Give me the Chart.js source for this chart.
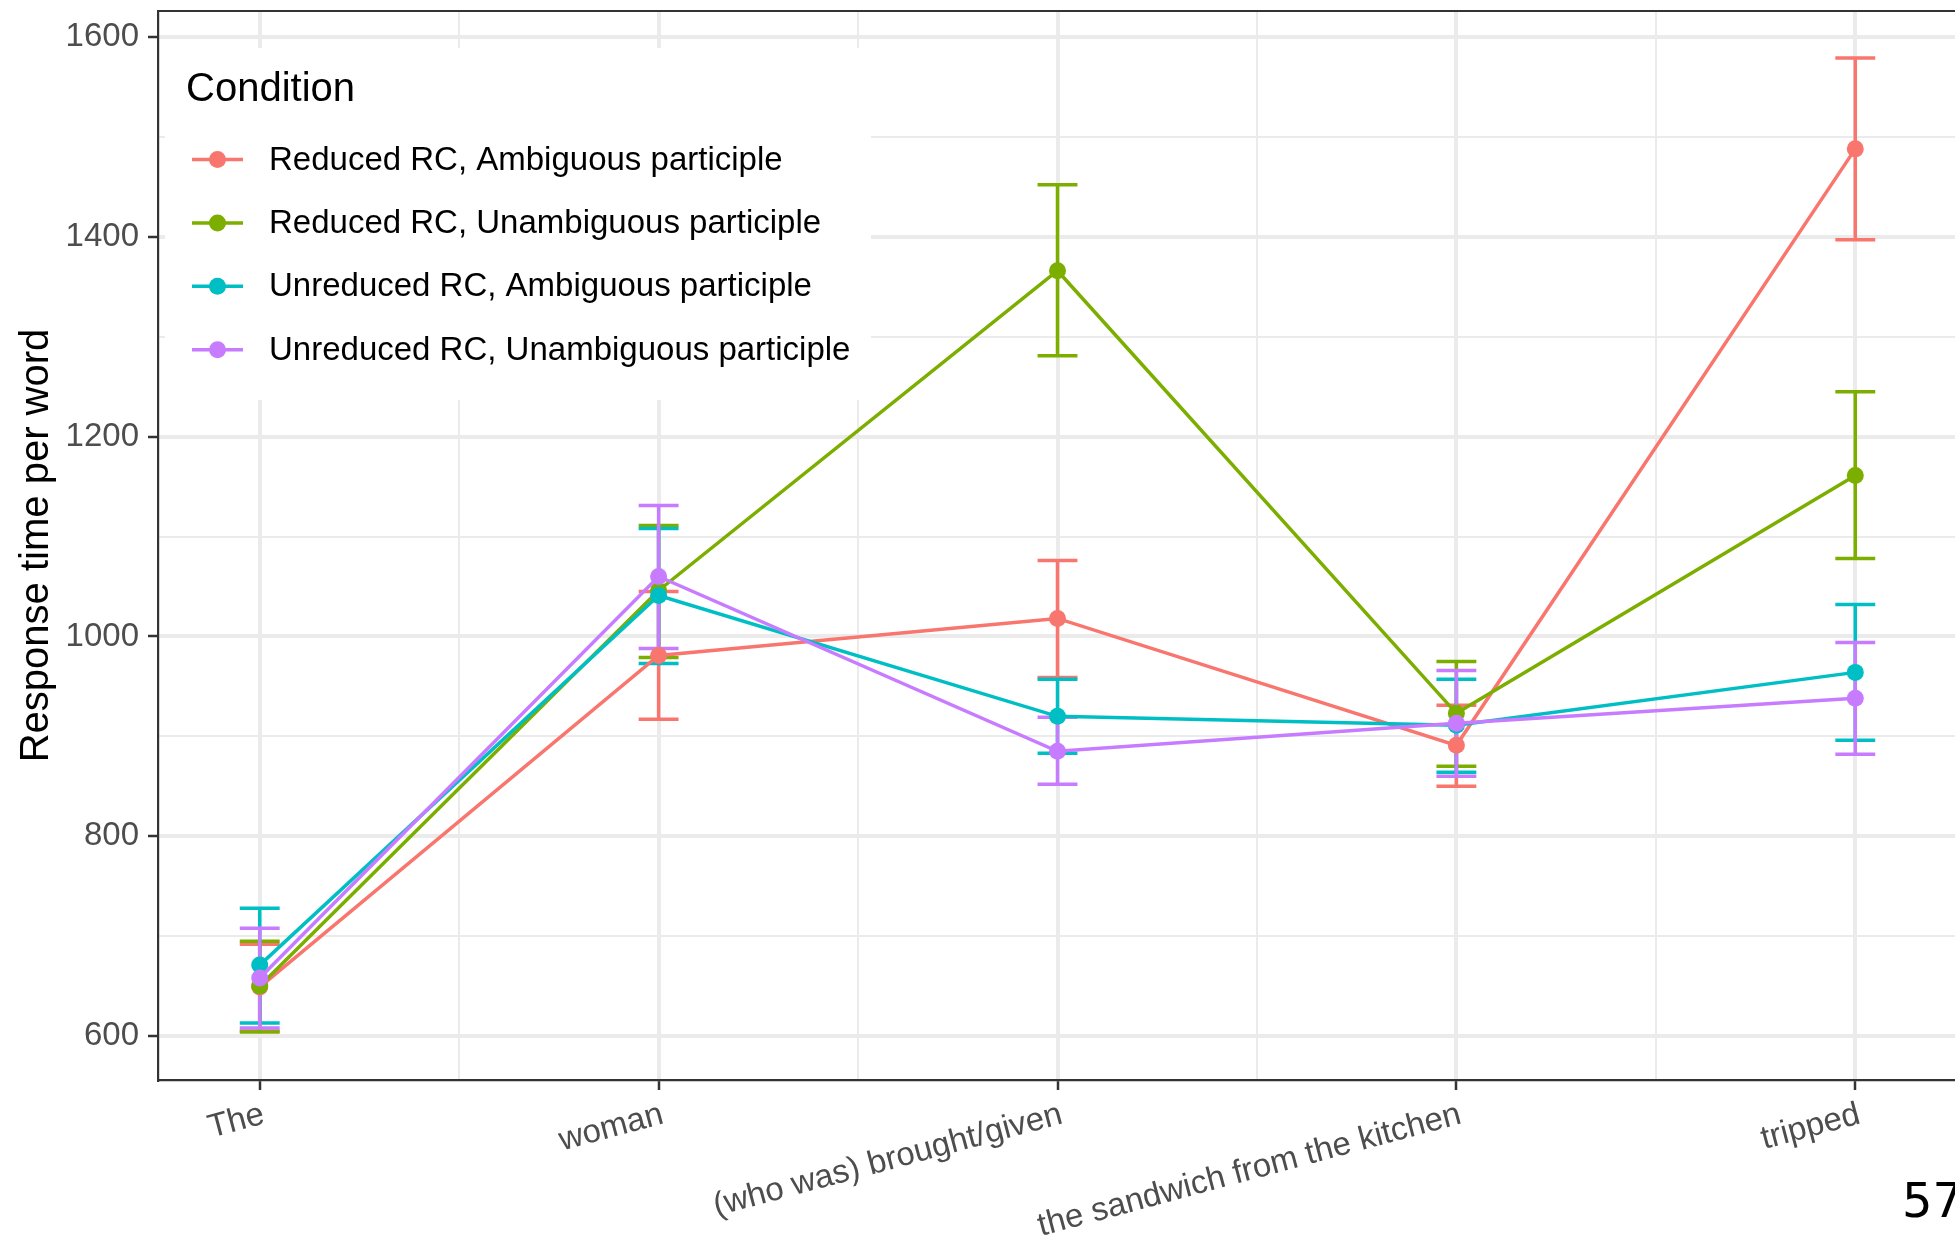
<!DOCTYPE html>
<html>
<head>
<meta charset="utf-8">
<title>Response time per word by region</title>
<script src="https://cdn.jsdelivr.net/npm/chart.js@4/dist/chart.umd.min.js"></script>
<style>
  html, body { margin: 0; padding: 0; background: #ffffff; overflow: hidden; }
  #wrap { position: relative; width: 1975px; height: 1239px; }
  #chart { position: absolute; left: 0; top: 0; }
  #page { position: absolute; left: 1902px; top: 1176px; font: 48px/48px "DejaVu Sans", sans-serif; color: #000; white-space: nowrap; }
</style>
</head>
<body>
<div id="wrap">
  <canvas id="chart" width="1975" height="1239" style="width:1975px;height:1239px"></canvas>
  <div id="page">57</div>
</div>
<script>
// Sentence regions (x axis)
const categories = ["The", "woman", "(who was) brought/given", "the sandwich from the kitchen", "tripped"];

// Condition names
const seriesNames = [
  "Reduced RC, Ambiguous participle",
  "Reduced RC, Unambiguous participle",
  "Unreduced RC, Ambiguous participle",
  "Unreduced RC, Unambiguous participle"
];

// Mean response time per word (ms)
const reducedAmbMean     = [649, 981, 1018, 891, 1488];
const reducedUnambMean   = [650, 1046, 1366, 923, 1161];
const unreducedAmbMean   = [671, 1041, 920, 911, 964];
const unreducedUnambMean = [658, 1060, 885, 913, 938];

// Error bar bounds
const reducedAmbLower     = [605, 917, 959, 850, 1397];
const reducedAmbUpper     = [692, 1045, 1076, 931, 1579];
const reducedUnambLower   = [604, 979, 1281, 870, 1078];
const reducedUnambUpper   = [695, 1111, 1452, 975, 1245];
const unreducedAmbLower   = [613, 973, 883, 864, 896];
const unreducedAmbUpper   = [728, 1108, 957, 957, 1032];
const unreducedUnambLower = [608, 988, 852, 860, 882];
const unreducedUnambUpper = [708, 1131, 919, 966, 994];

// Axis breaks
const yMajorTicks = [600, 800, 1000, 1200, 1400, 1600];
const yMinorTicks = [700, 900, 1100, 1300, 1500];
const xMinorTicks = [1.5, 2.5, 3.5, 4.5];

const colors = ["#F8766D", "#7CAE00", "#00BFC4", "#C77CFF"];
const FONT = '"Liberation Sans", Arial, Helvetica, sans-serif';

const means  = [reducedAmbMean, reducedUnambMean, unreducedAmbMean, unreducedUnambMean];
const lowers = [reducedAmbLower, reducedUnambLower, unreducedAmbLower, unreducedUnambLower];
const uppers = [reducedAmbUpper, reducedUnambUpper, unreducedAmbUpper, unreducedUnambUpper];

const xMajorTicks = categories.map((c, i) => i + 1);

const datasets = seriesNames.map((name, s) => ({
  label: name,
  data: means[s].map((v, i) => ({ x: i + 1, y: v })),
  borderColor: colors[s],
  backgroundColor: colors[s],
  pointBackgroundColor: colors[s],
  pointBorderWidth: 0,
  pointRadius: 8.5,
  pointHoverRadius: 8.5,
  borderWidth: 3.5,
  tension: 0,
  order: seriesNames.length - s
}));

// Vertical error bars with caps, drawn under the lines
const errorBars = {
  id: 'errorBars',
  beforeDatasetsDraw(chart) {
    const { ctx, chartArea, scales: { x, y } } = chart;
    const capHalf = Math.abs(x.getPixelForValue(1.05) - x.getPixelForValue(1));
    ctx.save();
    ctx.beginPath();
    ctx.rect(chartArea.left, chartArea.top, chartArea.right - chartArea.left, chartArea.bottom - chartArea.top);
    ctx.clip();
    ctx.lineWidth = 3.5;
    ctx.lineCap = 'butt';
    seriesNames.forEach((n, s) => {
      ctx.strokeStyle = colors[s];
      lowers[s].forEach((lo, i) => {
        const px = x.getPixelForValue(i + 1);
        const yl = y.getPixelForValue(lo);
        const yh = y.getPixelForValue(uppers[s][i]);
        ctx.beginPath();
        ctx.moveTo(px, yl); ctx.lineTo(px, yh);
        ctx.moveTo(px - capHalf, yl); ctx.lineTo(px + capHalf, yl);
        ctx.moveTo(px - capHalf, yh); ctx.lineTo(px + capHalf, yh);
        ctx.stroke();
      });
    });
    ctx.restore();
    // panel frame (top and right edges; left and bottom come from the axes)
    ctx.save();
    ctx.strokeStyle = '#333333';
    ctx.lineWidth = 2.2;
    ctx.beginPath();
    ctx.moveTo(chartArea.left, chartArea.top);
    ctx.lineTo(chartArea.right, chartArea.top);
    ctx.lineTo(chartArea.right, chartArea.bottom);
    ctx.stroke();
    ctx.restore();
  }
};

// Legend box placed inside the panel
const insideLegend = {
  id: 'insideLegend',
  afterDraw(chart, args, opts) {
    const { ctx } = chart;
    ctx.save();
    ctx.fillStyle = '#ffffff';
    ctx.fillRect(opts.left, opts.top, opts.width, opts.height);
    ctx.fillStyle = '#000000';
    ctx.textAlign = 'left';
    ctx.textBaseline = 'alphabetic';
    ctx.font = `40px ${FONT}`;
    ctx.fillText('Condition', opts.titleX, opts.titleY);
    ctx.font = `33px ${FONT}`;
    ctx.textBaseline = 'middle';
    chart.data.datasets.forEach((ds, i) => {
      const cy = opts.firstRowY + i * opts.rowGap;
      ctx.strokeStyle = ds.borderColor;
      ctx.lineWidth = 3.5;
      ctx.beginPath();
      ctx.moveTo(opts.keyX, cy);
      ctx.lineTo(opts.keyX + opts.keyW, cy);
      ctx.stroke();
      ctx.fillStyle = ds.borderColor;
      ctx.beginPath();
      ctx.arc(opts.keyX + opts.keyW / 2, cy, 8.5, 0, Math.PI * 2);
      ctx.fill();
      ctx.fillStyle = '#000000';
      ctx.fillText(ds.label, opts.textX, cy + 1);
    });
    ctx.restore();
  }
};

const isIn = (arr, v) => arr.some(t => Math.abs(t - v) < 1e-6);

new Chart(document.getElementById('chart'), {
  type: 'line',
  data: { datasets },
  plugins: [errorBars, insideLegend],
  options: {
    responsive: false,
    animation: false,
    devicePixelRatio: 1,
    layout: { padding: { top: 11, right: 18, left: 0, bottom: 0 } },
    plugins: {
      legend: { display: false },
      tooltip: { enabled: false },
      insideLegend: {
        left: 165, top: 48, width: 706, height: 352,
        titleX: 186, titleY: 101,
        keyX: 192, keyW: 51, textX: 269,
        firstRowY: 159.5, rowGap: 63.4
      }
    },
    scales: {
      x: {
        type: 'linear',
        min: 0.745,
        max: 5.255,
        afterBuildTicks(s) {
          s.ticks = [...xMajorTicks, ...xMinorTicks].sort((a, b) => a - b).map(v => ({ value: v }));
        },
        afterFit(s) {
          s.height = 159;
          s.paddingLeft = 0; s.paddingRight = 0;
        },
        ticks: {
          autoSkip: false,
          minRotation: 15,
          maxRotation: 15,
          padding: 5,
          labelOffset: 4,
          color: '#4D4D4D',
          font: { size: 33, family: FONT },
          callback: (v) => isIn(xMajorTicks, v) ? categories[Math.round(v) - 1] : ''
        },
        grid: {
          color: '#EBEBEB',
          lineWidth: (c) => (c.tick && isIn(xMajorTicks, c.tick.value)) ? 4 : 2,
          tickLength: 10,
          tickWidth: 2.5,
          tickColor: (c) => (c.tick && isIn(xMajorTicks, c.tick.value)) ? '#333333' : 'rgba(0,0,0,0)'
        },
        border: { color: '#333333', width: 2.2 }
      },
      y: {
        type: 'linear',
        min: 556,
        max: 1626,
        afterBuildTicks(s) {
          s.ticks = [...yMajorTicks, ...yMinorTicks].sort((a, b) => a - b).map(v => ({ value: v }));
        },
        afterFit(s) {
          s.width = 158;
          s.paddingTop = 0; s.paddingBottom = 0;
        },
        ticks: {
          padding: 9,
          color: '#4D4D4D',
          font: { size: 33, family: FONT },
          callback: (v) => isIn(yMajorTicks, v) ? String(v) : ''
        },
        grid: {
          color: '#EBEBEB',
          lineWidth: (c) => (c.tick && isIn(yMajorTicks, c.tick.value)) ? 4 : 2,
          tickLength: 10,
          tickWidth: 2.5,
          tickColor: (c) => (c.tick && isIn(yMajorTicks, c.tick.value)) ? '#333333' : 'rgba(0,0,0,0)'
        },
        border: { color: '#333333', width: 2.2 },
        title: {
          display: true,
          text: 'Response time per word',
          color: '#000000',
          font: { size: 40, family: FONT },
          padding: { top: 13, bottom: 0 }
        }
      }
    }
  }
});
</script>
</body>
</html>
